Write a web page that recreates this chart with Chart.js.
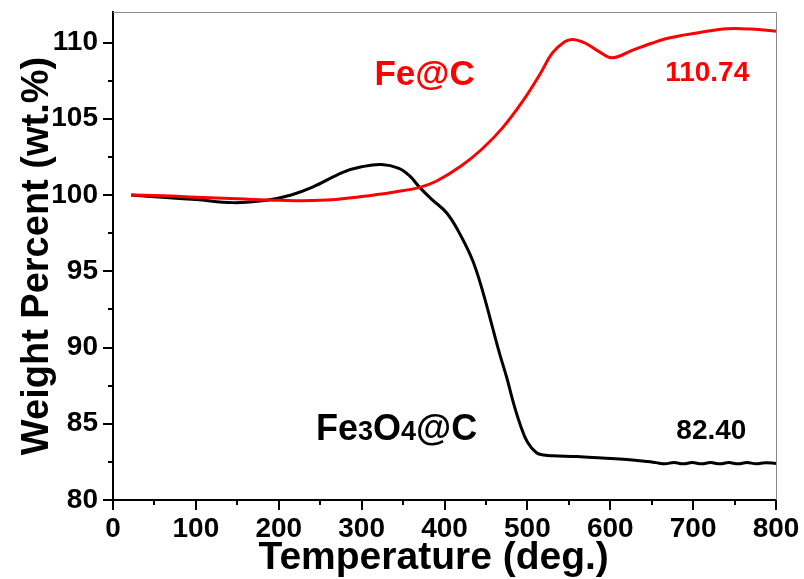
<!DOCTYPE html>
<html>
<head>
<meta charset="utf-8">
<script src="https://cdn.jsdelivr.net/npm/chart.js@4/dist/chart.umd.min.js"></script>
<style>
  html, body { margin: 0; padding: 0; background: #fff; }
  #wrap { width: 804px; height: 579px; }
</style>
</head>
<body>
<div id="wrap"><canvas id="c" width="804" height="579"></canvas></div>
<script>
// ---- data ----
const feC_T = [22, 60, 100, 150, 200, 250, 300, 340, 370, 390, 420, 445, 470, 495, 515, 530, 545, 555, 570, 588, 603, 627, 650, 668, 690, 708, 741, 770, 800];
const feC_W = [100.0, 99.95, 99.85, 99.75, 99.65, 99.65, 99.9, 100.2, 100.5, 100.9, 101.9, 103.0, 104.4, 106.2, 107.9, 109.3, 110.05, 110.2, 109.95, 109.35, 109.0, 109.5, 109.95, 110.26, 110.5, 110.66, 110.9, 110.88, 110.74];

const fe3o4_T = [22, 60, 100, 145, 185, 215, 240, 278, 300, 324, 345, 358, 370, 385, 403, 420, 434, 446, 458, 467, 475, 483, 491, 500, 511, 520, 531, 560, 590, 620, 645,
                 655, 666, 677, 688, 699, 710, 721, 732, 743, 754, 765, 776, 787, 800];
const fe3o4_W = [100.0, 99.85, 99.7, 99.5, 99.65, 100.0, 100.5, 101.5, 101.85, 102.0, 101.75, 101.25, 100.5, 99.7, 98.8, 97.3, 95.7, 93.7, 91.3, 89.5, 88.05, 86.4, 85.0, 83.8, 83.1, 82.95, 82.9, 82.85, 82.75, 82.65, 82.52,
                 82.45, 82.37, 82.46, 82.37, 82.46, 82.37, 82.46, 82.37, 82.46, 82.37, 82.46, 82.37, 82.45, 82.40];

const xTicksMajor = [0, 100, 200, 300, 400, 500, 600, 700, 800];
const xTicksMinor = [50, 150, 250, 350, 450, 550, 650, 750];
const yTicksMajor = [80, 85, 90, 95, 100, 105, 110];
const yTicksMinor = [82.5, 87.5, 92.5, 97.5, 102.5, 107.5];

const seriesNames = ['Fe@C', 'Fe3O4@C'];
const endLabels = ['110.74', '82.40'];

const FONT = "'Liberation Sans', Arial, Helvetica, sans-serif";

function toXY(xs, ys) { return xs.map((x, i) => ({ x: x, y: ys[i] })); }

const extras = {
  id: 'extras',
  afterDraw(chart) {
    const ctx = chart.ctx;
    const xs = chart.scales.x, ys = chart.scales.y;
    const a = chart.chartArea;
    ctx.save();
    // top & right thin frame
    ctx.strokeStyle = '#8a8a8a';
    ctx.lineWidth = 1;
    ctx.beginPath();
    ctx.moveTo(a.left, a.top + 0.5);
    ctx.lineTo(a.right + 0.5, a.top + 0.5);
    ctx.lineTo(a.right + 0.5, a.bottom);
    ctx.stroke();
    // minor ticks
    ctx.strokeStyle = '#000';
    ctx.lineWidth = 2;
    ctx.beginPath();
    xTicksMinor.forEach(v => {
      const px = Math.round(xs.getPixelForValue(v));
      ctx.moveTo(px, a.bottom);
      ctx.lineTo(px, a.bottom + 5);
    });
    yTicksMinor.forEach(v => {
      const py = Math.round(ys.getPixelForValue(v));
      ctx.moveTo(a.left, py);
      ctx.lineTo(a.left - 5, py);
    });
    ctx.stroke();

    // annotations
    ctx.textBaseline = 'alphabetic';
    ctx.fillStyle = '#ff0000';
    ctx.font = 'bold 35px ' + FONT;
    ctx.textAlign = 'center';
    ctx.fillText(seriesNames[0], xs.getPixelForValue(376), ys.getPixelForValue(107.2));
    ctx.font = 'bold 28px ' + FONT;
    ctx.fillText(endLabels[0], xs.getPixelForValue(717), ys.getPixelForValue(107.5));
    // Fe3O4@C with small digits
    ctx.fillStyle = '#000';
    ctx.textAlign = 'left';
    let x = xs.getPixelForValue(245);
    const by = ys.getPixelForValue(83.93);
    const parts = [['Fe', 36], ['3', 27], ['O', 36], ['4', 27], ['@C', 36]];
    parts.forEach(([t, s]) => {
      ctx.font = 'bold ' + s + 'px ' + FONT;
      ctx.fillText(t, x, by);
      x += ctx.measureText(t).width;
    });
    ctx.font = 'bold 28px ' + FONT;
    ctx.textAlign = 'center';
    ctx.fillText(endLabels[1], xs.getPixelForValue(722), ys.getPixelForValue(84.0));
    ctx.restore();
  }
};

new Chart(document.getElementById('c'), {
  type: 'line',
  data: {
    datasets: [
      { label: seriesNames[0], data: toXY(feC_T, feC_W), borderColor: '#ff0000', borderWidth: 3,
        pointRadius: 0, fill: false, tension: 0.4 },
      { label: seriesNames[1], data: toXY(fe3o4_T, fe3o4_W), borderColor: '#000000', borderWidth: 3,
        pointRadius: 0, fill: false, tension: 0.4 }
    ]
  },
  options: {
    responsive: false,
    animation: false,
    events: [],
    layout: { padding: { top: 12, right: 28, left: 0, bottom: 0 } },
    plugins: { legend: { display: false }, tooltip: { enabled: false } },
    scales: {
      x: {
        type: 'linear', min: 0, max: 800,
        afterFit(s) { s.height = 79; s.paddingLeft = 0; s.paddingRight = 0; },
        afterBuildTicks(s) { s.ticks = xTicksMajor.map(v => ({ value: v })); },
        ticks: { color: '#000', padding: 2, font: { family: FONT, size: 28, weight: 'bold' }, maxRotation: 0 },
        grid: { display: true, drawOnChartArea: false, drawTicks: true, tickLength: 10, color: '#000', lineWidth: 2 },
        border: { display: true, color: '#000', width: 2 },
        title: { display: true, text: 'Temperature (deg.)\u00a0\u00a0', color: '#000', padding: { top: 0, bottom: 0 },
                 font: { family: FONT, size: 39, weight: 'bold', lineHeight: 1.05 } }
      },
      y: {
        type: 'linear', min: 80, max: 112,
        afterFit(s) { s.width = 113; s.paddingTop = 0; s.paddingBottom = 0; },
        afterBuildTicks(s) { s.ticks = yTicksMajor.map(v => ({ value: v })); },
        ticks: { color: '#000', padding: 5, font: { family: FONT, size: 28, weight: 'bold' } },
        grid: { display: true, drawOnChartArea: false, drawTicks: true, tickLength: 10, color: '#000', lineWidth: 2 },
        border: { display: true, color: '#000', width: 2 },
        title: { display: true, text: 'Weight Percent (wt.%)', color: '#000', padding: { top: 15, bottom: 0 },
                 font: { family: FONT, size: 38, weight: 'bold' } }
      }
    }
  },
  plugins: [extras]
});
</script>
</body>
</html>
